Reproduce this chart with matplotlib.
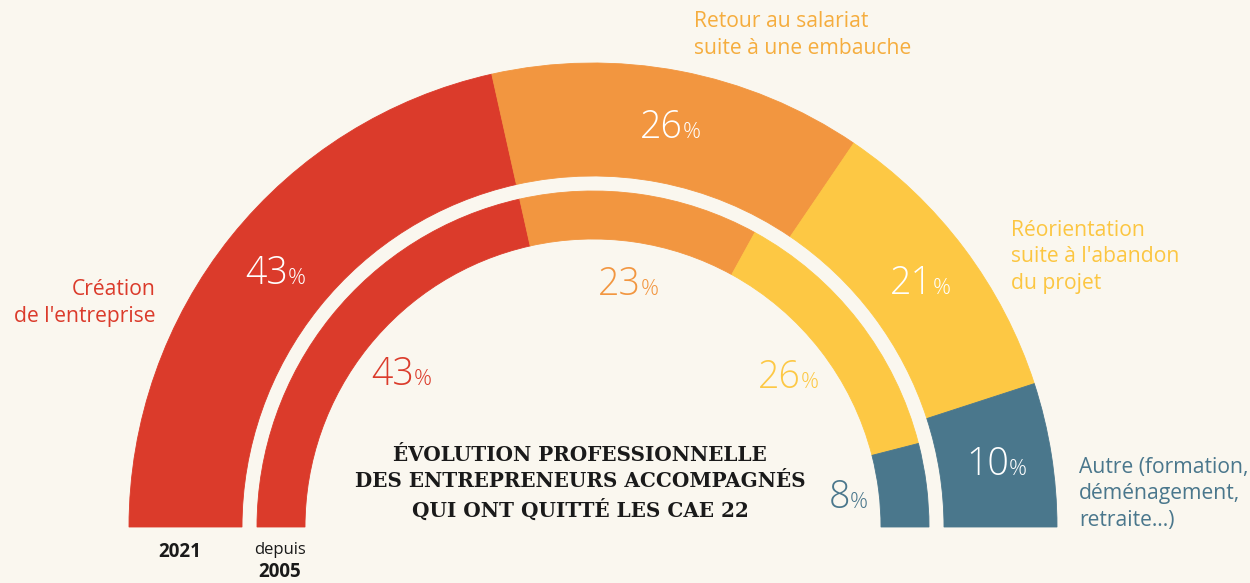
import matplotlib
matplotlib.use("Agg")
import matplotlib.pyplot as plt
from matplotlib.patches import Wedge
import numpy as np

# data
categories = [
    "Création\nde l'entreprise",
    "Retour au salariat\nsuite à une embauche",
    "Réorientation\nsuite à l'abandon\ndu projet",
    "Autre (formation,\ndéménagement,\nretraite…)",
]
share_2021 = [43, 26, 21, 10]
share_2005 = [43, 23, 26, 8]
ring_labels = ["2021", "depuis", "2005"]
title = "ÉVOLUTION PROFESSIONNELLE\nDES ENTREPRENEURS ACCOMPAGNÉS\nQUI ONT QUITTÉ LES CAE 22"

BG = "#FAF7EF"
colors = ["#DB3B2B", "#F29640", "#FDC844", "#4A778C"]
label_colors = ["#DB3B2B", "#F5AD3E", "#FCC641", "#4A778C"]
SANS = ["Open Sans", "DejaVu Sans"]

fig = plt.figure(figsize=(12.5, 5.83), dpi=100)
fig.patch.set_facecolor(BG)
ax = fig.add_axes([0, 0, 1, 1])
ax.set_xlim(0, 1250)
ax.set_ylim(583, 0)
ax.axis("off")
ax.set_facecolor(BG)

cx, cy = 593, 527


def ring(values, r_out, width, label_r, inside_labels):
    total = sum(values)
    start = 180.0
    for value, color in zip(values, colors):
        end = start - 180.0 * value / total
        # y axis is inverted, so visual angle a is -a in data space
        ax.add_patch(Wedge((cx, cy), r_out, -start, -end, width=width,
                           facecolor=color, edgecolor=color, linewidth=0.6))
        mid = np.deg2rad((start + end) / 2)
        x = cx + label_r * np.cos(mid)
        y = cy - label_r * np.sin(mid)
        tc = color if inside_labels else "white"
        ax.text(x + 13, y + 12, f"{value}", ha="right", va="baseline",
                fontsize=27, color=tc, family=SANS, fontweight=300)
        ax.text(x + 13, y + 12, "%", ha="left", va="baseline",
                fontsize=16, color=tc, family=SANS, fontweight=300)
        start = end


ring(share_2021, 464, 113, 408, False)
ring(share_2005, 336, 48, 246, True)

# category labels
lab = dict(fontsize=15.2, family=SANS, linespacing=1.32, fontweight=500)
ax.text(156, 303, categories[0], ha="right", va="center",
        color=label_colors[0], **lab)
ax.text(694, 35, categories[1], ha="left", va="center",
        color=label_colors[1], **lab)
ax.text(1011, 257, categories[2], ha="left", va="center",
        color=label_colors[2], **lab)
ax.text(1079, 494, categories[3], ha="left", va="center",
        color=label_colors[3], **lab)

# title
ax.text(580, 483, title, ha="center", va="center", fontsize=14.4,
        family=["DejaVu Serif"], fontweight="bold", color="#1A1A1A",
        linespacing=1.4)

# ring labels
ax.text(180, 552, ring_labels[0], ha="center", va="center", fontsize=13.5,
        fontweight="bold", family=SANS, color="#1A1A1A")
ax.text(280, 550, ring_labels[1], ha="center", va="center", fontsize=12,
        family=SANS, color="#1A1A1A")
ax.text(280, 572, ring_labels[2], ha="center", va="center", fontsize=13.5,
        fontweight="bold", family=SANS, color="#1A1A1A")

fig.savefig("out.png", dpi=100, facecolor=BG)
